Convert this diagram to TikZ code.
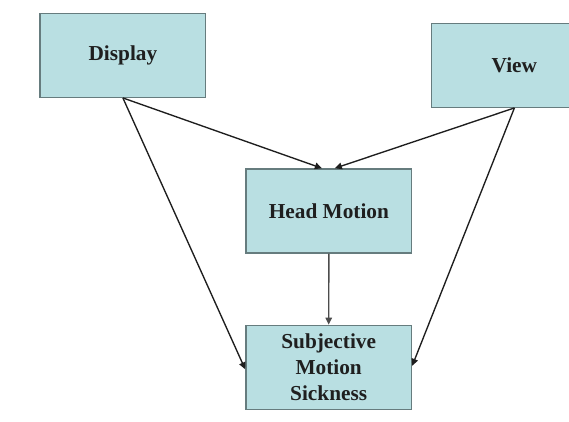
\documentclass[tikz,border=0pt]{standalone}
\usepackage{fontspec}
\setmainfont{Liberation Serif}
\usetikzlibrary{arrows.meta}
\definecolor{boxfill}{HTML}{B9DFE2}
\definecolor{boxline}{HTML}{667C7E}
\definecolor{arrline}{HTML}{1E1E1E}
\begin{document}
\begin{tikzpicture}[x=1pt,y=1pt,
  box/.style={draw=boxline, fill=boxfill, line width=1.3pt, minimum width=165.7pt,
    minimum height=84pt, inner sep=0pt, align=center,
    font=\fontsize{21.3}{25.7}\selectfont\bfseries, text=black!88},
  arr/.style={draw=arrline, line width=1.35pt, -{Triangle[length=7pt,width=6.5pt]}}]
\clip (0,0) rectangle (569,422);
\fill[white] (0,0) rectangle (569,422);
\node[box] (disp) at (122.9,366.7) {Display};
\node[box] (view) at (514.4,356.7) {View};
\node[box] (head) at (328.9,211.1) {Head Motion};
\node[box] (subj) at (328.7,54.7) {Subjective\\Motion\\Sickness};
\draw[arr] (disp.south) -- ([xshift=-7pt]head.north);
\draw[arr] (view.south) -- ([xshift=6pt]head.north);
\draw[arr] (disp.south) -- ([yshift=-2pt]subj.west);
\draw[arr] (view.south) -- ([yshift=1.5pt]subj.east);
\draw[arr, draw=black!70] (head.south) -- (subj.north);
\end{tikzpicture}
\end{document}
